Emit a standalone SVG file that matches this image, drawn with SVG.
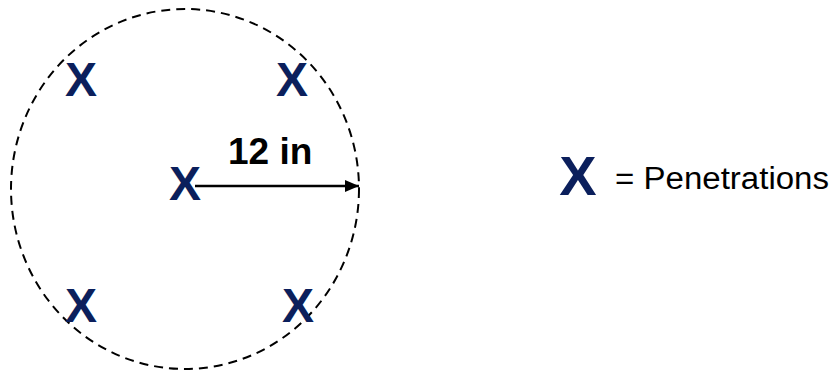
<svg xmlns="http://www.w3.org/2000/svg" width="836" height="372" viewBox="0 0 836 372">
<style>
.x{font-family:"Liberation Sans",Arial,sans-serif;font-weight:bold;fill:#0b1f5c;text-anchor:middle}
.lbl{font-family:"Liberation Sans",Arial,sans-serif;fill:#000}
</style>
<defs>
<marker id="ah" markerWidth="14" markerHeight="14" refX="14" refY="7" orient="auto" markerUnits="userSpaceOnUse" viewBox="0 0 14 14">
<path d="M0,1 L14,7 L0,13 Z" fill="#000"/>
</marker>
</defs>
<rect width="836" height="372" fill="#fff"/>
<ellipse cx="185" cy="189" rx="174" ry="180" fill="none" stroke="#000" stroke-width="2" stroke-dasharray="9,6"/>
<g id="connectors">
<line x1="195" y1="186" x2="359" y2="186" stroke="#000" stroke-width="2.5" marker-end="url(#ah)"/>
</g>
<text class="lbl" x="228" y="164" font-size="37" font-weight="bold">12 in</text>
<g id="p1"><text class="x" x="81" y="96" font-size="48">X</text></g>
<g id="p2"><text class="x" x="292" y="96" font-size="48">X</text></g>
<g id="p3"><text class="x" x="185" y="200" font-size="48">X</text></g>
<g id="p4"><text class="x" x="81" y="322" font-size="48">X</text></g>
<g id="p5"><text class="x" x="298" y="322" font-size="48">X</text></g>
<g id="legend">
<text class="x" x="578" y="195" font-size="56">X</text>
<text class="lbl" x="615" y="189" font-size="31" textLength="214" lengthAdjust="spacingAndGlyphs">= Penetrations</text>
</g>
</svg>
